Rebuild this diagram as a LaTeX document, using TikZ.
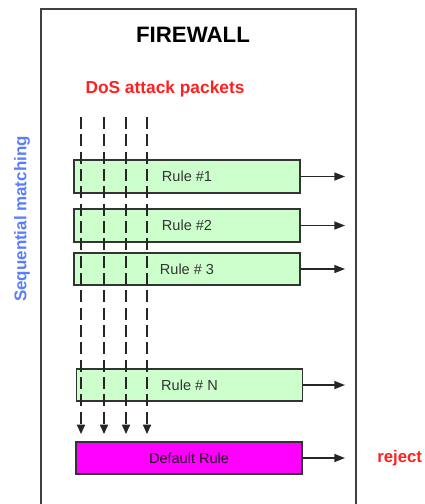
\documentclass[tikz,border=0pt]{standalone}
\usepackage{fontspec}
\setmainfont{Liberation Sans}
\usetikzlibrary{arrows.meta}

\definecolor{rulegreen}{HTML}{CCFFCC}
\definecolor{defmagenta}{HTML}{FF00FF}
\definecolor{seqblue}{HTML}{5A7DFF}
\definecolor{pktred}{HTML}{FF2020}

\tikzset{
  rulebox/.style={draw=black!80, line width=1.4pt, fill=rulegreen, inner sep=0pt,
    minimum width=169.5pt, minimum height=24.5pt, text=black!80, font=\fontsize{10.9}{12}\selectfont},
  packet/.style={black!85, line width=1.1pt, dash pattern=on 9pt off 4pt,
    -{Triangle[length=7pt,width=6pt]}},
  exitarrow/.style={black!85, line width=1.1pt, -{Triangle[length=8pt,width=6pt]}}
}

\begin{document}
\begin{tikzpicture}[x=0.75pt,y=-0.75pt]
  \useasboundingbox (0,0) rectangle (425,504);

  % Cortafuegos
  \draw[black!75, line width=1.5pt] (41,9) rectangle (356,530);
  \node (title) at (193,35) {\fontsize{16.7}{18}\selectfont\bfseries FIREWALL};
  \node[text=pktred] (dos) at (165,89) {\fontsize{13}{15}\selectfont\bfseries DoS attack packets};
  \node[text=seqblue, rotate=90] (seq) at (22,219) {\fontsize{12.7}{14}\selectfont\bfseries Sequential matching};

  % Reglas
  \node[rulebox] (r1) at (187,176.5) {Rule \#1};
  \node[rulebox] (r2) at (187,225.5) {Rule \#2};
  \node[rulebox] (r3) at (187,269) {Rule \# 3};
  \node[rulebox] (rN) at (189.5,385) {Rule \# N};
  \node[rulebox, fill=defmagenta, text=black!90] (def) at (189,458) {Default Rule};
  \node[text=pktred, anchor=west, inner sep=0pt] (reject) at (377,458) {\fontsize{12.6}{15}\selectfont\bfseries reject};

  % Salidas
  \coordinate (exit) at (345,0);
  \foreach \r in {r1,r2,r3,rN,def}
    \draw[exitarrow] (\r.east) -- (\r.east -| exit);

  % Paquetes
  \foreach \x [count=\i] in {81,104,126,147} {
    \coordinate (p\i) at (\x,117);
    \draw[packet, shorten >=5pt] (p\i) -- (p\i |- def.north);
  }
\end{tikzpicture}
\end{document}
